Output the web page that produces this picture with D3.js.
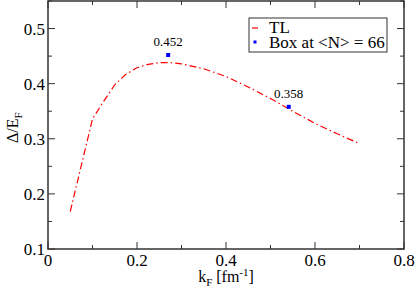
<!DOCTYPE html>
<html>
<head>
<meta charset="utf-8">
<script src="https://cdn.jsdelivr.net/npm/d3@7"></script>
<style>
  body { margin: 0; background: #fff; }
  svg text { font-family: "Liberation Serif", "Times New Roman", serif; }
</style>
</head>
<body>
<div id="chart"></div>
<script>
// TL curve
const tlK = [0.05, 0.10, 0.125, 0.15, 0.175, 0.20, 0.225, 0.25, 0.275, 0.30, 0.35, 0.40, 0.45, 0.50, 0.55, 0.60, 0.65, 0.695];
const tlGap = [0.168, 0.336, 0.368, 0.398, 0.417, 0.429, 0.435, 0.438, 0.438, 0.436, 0.427, 0.413, 0.394, 0.373, 0.350, 0.328, 0.309, 0.293];

// box results
const boxK = [0.27, 0.541];
const boxGap = [0.452, 0.358];
const boxLabels = ["0.452", "0.358"];

const xTicks = [0, 0.2, 0.4, 0.6, 0.8];
const yTicks = [0.1, 0.2, 0.3, 0.4, 0.5];

const W = 415, H = 295;
const margin = {top: 1, right: 11, bottom: 46, left: 48};
const width = W - margin.left - margin.right;
const height = H - margin.top - margin.bottom;

const svg = d3.select("#chart").append("svg")
    .attr("width", W)
    .attr("height", H);

const g = svg.append("g")
    .attr("transform", "translate(" + margin.left + "," + margin.top + ")");

const x = d3.scaleLinear().domain([0, 0.8]).range([0, width]);
const y = d3.scaleLinear().domain([0.1, 0.55]).range([height, 0]);

const axisColor = "#333";

// ticks, major and minor, all inward and mirrored
function drawTicks() {
    const xMinor = d3.range(0, 0.801, 0.1);
    const yMinor = d3.range(0.1, 0.551, 0.05);
    xMinor.forEach(function (v) {
        const major = Math.abs(Math.round(v * 10) % 2) === 0;
        const len = major ? 7 : 4;
        g.append("line").attr("x1", x(v)).attr("x2", x(v)).attr("y1", height).attr("y2", height - len)
            .attr("stroke", axisColor);
        g.append("line").attr("x1", x(v)).attr("x2", x(v)).attr("y1", 0).attr("y2", len)
            .attr("stroke", axisColor);
    });
    yMinor.forEach(function (v) {
        const major = Math.abs(Math.round(v * 100) % 10) === 0;
        const len = major ? 7 : 4;
        g.append("line").attr("y1", y(v)).attr("y2", y(v)).attr("x1", 0).attr("x2", len)
            .attr("stroke", axisColor);
        g.append("line").attr("y1", y(v)).attr("y2", y(v)).attr("x1", width).attr("x2", width - len)
            .attr("stroke", axisColor);
    });
}
drawTicks();

// frame
g.append("rect")
    .attr("width", width).attr("height", height)
    .attr("fill", "none").attr("stroke", axisColor).attr("stroke-width", 1.5);

// tick labels
g.selectAll(".xl").data(xTicks).enter().append("text")
    .attr("x", function (d) { return x(d); })
    .attr("y", height + 17)
    .attr("text-anchor", "middle")
    .attr("font-size", 17)
    .text(function (d) { return d === 0 ? "0" : d.toFixed(1); });

g.selectAll(".yl").data(yTicks).enter().append("text")
    .attr("x", -3)
    .attr("y", function (d) { return y(d) + 6; })
    .attr("text-anchor", "end")
    .attr("font-size", 17)
    .text(function (d) { return d.toFixed(1); });

// axis labels
const xl = svg.append("text")
    .attr("x", margin.left + x(0.4))
    .attr("y", 282)
    .attr("text-anchor", "middle")
    .attr("font-size", 16);
xl.append("tspan").text("k");
xl.append("tspan").attr("font-size", 11).attr("dy", 4).text("F");
xl.append("tspan").attr("dy", -4).text(" [fm");
xl.append("tspan").attr("font-size", 11).attr("dy", -6).text("-1");
xl.append("tspan").attr("dy", 6).text("]");

const yl = svg.append("text")
    .attr("transform", "translate(18," + (margin.top + y(0.32)) + ") rotate(-90)")
    .attr("text-anchor", "middle")
    .attr("font-size", 16);
yl.append("tspan").text("\u0394/E");
yl.append("tspan").attr("font-size", 11).attr("dy", 4).text("F");

// TL line
const line = d3.line()
    .x(function (d, i) { return x(tlK[i]); })
    .y(function (d) { return y(d); });

g.append("path")
    .datum(tlGap)
    .attr("d", line)
    .attr("fill", "none")
    .attr("stroke", "#ff0000")
    .attr("stroke-width", 1.2)
    .attr("stroke-dasharray", "7,3,1.5,3");

// box points
g.selectAll(".pt").data(boxGap).enter().append("rect")
    .attr("x", function (d, i) { return x(boxK[i]) - 2; })
    .attr("y", function (d) { return y(d) - 2; })
    .attr("width", 4).attr("height", 4)
    .attr("fill", "#0000ff");

g.selectAll(".ptl").data(boxGap).enter().append("text")
    .attr("x", function (d, i) { return x(boxK[i]); })
    .attr("y", function (d) { return y(d) - 9; })
    .attr("text-anchor", "middle")
    .attr("font-size", 13)
    .text(function (d, i) { return boxLabels[i]; });

// legend
const lg = svg.append("g").attr("transform", "translate(249,18)");
lg.append("rect").attr("width", 138).attr("height", 34)
    .attr("fill", "#fff").attr("stroke", "#333").attr("stroke-width", 1);
lg.append("line").attr("x1", 3).attr("x2", 9).attr("y1", 10).attr("y2", 10)
    .attr("stroke", "#ff0000").attr("stroke-width", 1.2);
lg.append("rect").attr("x", 4.5).attr("y", 22.5).attr("width", 3).attr("height", 3).attr("fill", "#0000ff");
lg.append("text").attr("x", 20).attr("y", 15).attr("font-size", 17).text("TL");
lg.append("text").attr("x", 20).attr("y", 30).attr("font-size", 17).text("Box at <N> = 66");
</script>
</body>
</html>
